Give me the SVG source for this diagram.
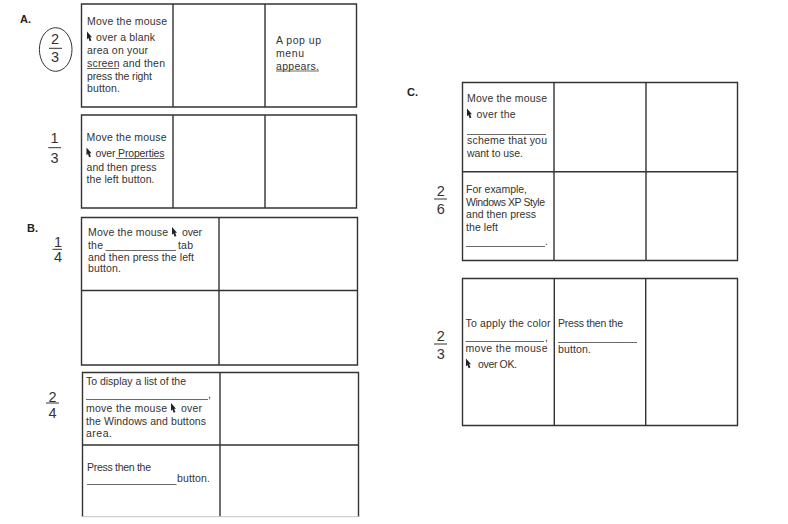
<svg xmlns="http://www.w3.org/2000/svg" width="788" height="524" viewBox="0 0 788 524">
<style>
text{font-family:"Liberation Sans",Arial,sans-serif;fill:#333}
.t{font-size:10.5px}
.h{font-size:11px;font-weight:bold;fill:#222}
.f{font-size:14.500px;text-anchor:middle;fill:#333}
.b{fill:none;stroke:#333;stroke-width:1.4}
.u{stroke:#444;stroke-width:.8;fill:none}
.r{stroke:#333;stroke-width:1;fill:none}
</style>
<defs>
<path id="cur" d="M0 0L5 5.800L3.200 5.800L4.400 9L2.600 9.700L1.500 6.400L0 7.800Z" fill="#222"/>
</defs>
<rect width="788" height="524" fill="#fff"/>
<g id="section-a">
<text class="h" x="20" y="23">A.</text>
<g id="fraction-a1"><ellipse class="r" cx="55.700" cy="49.500" rx="16.300" ry="21.800"/><text class="f" x="55" y="44">2</text><line class="r" x1="49" y1="48.300" x2="62" y2="48.300"/><text class="f" x="55" y="62">3</text></g>
<g id="table-a1">
<path class="b" d="M81.500 4H356.500V107H81.500ZM173 4V107M265 4V107"/>
<text class="t" x="87" y="25" textLength="80">Move the mouse</text>
<use href="#cur" x="87" y="31.500"/>
<text class="t" x="96" y="41" textLength="59">over a blank</text>
<text class="t" x="87" y="54" textLength="61">area on your</text>
<text class="t" x="87" y="67" textLength="78">screen and then</text>
<line class="u" x1="87" y1="68.500" x2="119" y2="68.500"/>
<text class="t" x="87" y="80" textLength="65">press the right</text>
<text class="t" x="87" y="92" textLength="33">button.</text>
<text class="t" x="276" y="44" textLength="45">A pop up</text>
<text class="t" x="276" y="57" textLength="28">menu</text>
<text class="t" x="276" y="70" textLength="43">appears.</text>
<line class="u" x1="276" y1="71" x2="319" y2="71"/>
</g>
<g id="fraction-a2"><text class="f" x="54.500" y="143.300">1</text><line class="r" x1="48.300" y1="147.700" x2="61" y2="147.700"/><text class="f" x="54.500" y="162.500">3</text></g>
<g id="table-a2">
<path class="b" d="M81.500 115H356.500V208H81.500ZM173 115V208M265 115V208"/>
<text class="t" x="86.500" y="141" textLength="80">Move the mouse</text>
<use href="#cur" x="86.500" y="147.500"/>
<text class="t" x="95.500" y="157" textLength="69">over Properties</text>
<line class="u" x1="116" y1="158.500" x2="164.500" y2="158.500"/>
<text class="t" x="86.500" y="171" textLength="70">and then press</text>
<text class="t" x="86.500" y="183" textLength="68">the left button.</text>
</g>
</g>
<g id="section-b">
<text class="h" x="27" y="232">B.</text>
<g id="fraction-b1"><text class="f" x="58" y="246.700">1</text><line class="r" x1="52.500" y1="249.300" x2="62" y2="249.300"/><text class="f" x="58" y="262.300">4</text></g>
<g id="table-b1">
<path class="b" d="M81.500 217.500H357.500V365H81.500ZM219 217.500V365M81.500 290.500H357.500"/>
<text class="t" x="88" y="236" textLength="80">Move the mouse</text>
<use href="#cur" x="172" y="227"/>
<text class="t" x="182" y="236" textLength="20">over</text>
<text class="t" x="88" y="249" textLength="15">the</text>
<line class="u" x1="105.500" y1="250.500" x2="176" y2="250.500"/>
<text class="t" x="178" y="249" textLength="15">tab</text>
<text class="t" x="88" y="261" textLength="106">and then press the left</text>
<text class="t" x="88" y="272" textLength="33">button.</text>
</g>
<g id="fraction-b2"><text class="f" x="52.500" y="401.700">2</text><line class="r" x1="46" y1="403" x2="59" y2="403"/><text class="f" x="52.500" y="417.500">4</text></g>
<g id="table-b2">
<path class="b" d="M82.500 517V372.500H358.500V517M220 372.500V517M82.500 445H358.500"/>
<line x1="82" y1="516.700" x2="359" y2="516.700" stroke="#c4c4c4" stroke-width="1"/>
<text class="t" x="86" y="385" textLength="100">To display a list of the</text>
<line class="u" x1="86" y1="399.500" x2="208" y2="399.500"/>
<text class="t" x="208" y="398">,</text>
<text class="t" x="86" y="412" textLength="81">move the mouse</text>
<use href="#cur" x="171" y="403"/>
<text class="t" x="181" y="412" textLength="21">over</text>
<text class="t" x="86" y="425" textLength="120">the Windows and buttons</text>
<text class="t" x="86" y="437" textLength="26">area.</text>
<text class="t" x="87" y="471" textLength="64">Press then the</text>
<line class="u" x1="87" y1="484.500" x2="176.500" y2="484.500"/>
<text class="t" x="177" y="482" textLength="33">button.</text>
</g>
</g>
<g id="section-c">
<text class="h" x="407" y="96">C.</text>
<g id="table-c1">
<path class="b" d="M462.500 82.500H737.500V260.500H462.500ZM554 82.500V260.500M646 82.500V260.500M462.500 171.700H737.500"/>
<text class="t" x="467" y="102" textLength="80">Move the mouse</text>
<use href="#cur" x="467" y="108.500"/>
<text class="t" x="476.500" y="118" textLength="39">over the</text>
<line class="u" x1="467" y1="134.500" x2="546" y2="134.500"/>
<text class="t" x="467" y="144" textLength="80">scheme that you</text>
<text class="t" x="467" y="157" textLength="56">want to use.</text>
<text class="t" x="466" y="193" textLength="61">For example,</text>
<text class="t" x="466" y="206" textLength="79">Windows XP Style</text>
<text class="t" x="466" y="218" textLength="70">and then press</text>
<text class="t" x="466" y="231" textLength="32">the left</text>
<line class="u" x1="466" y1="246.500" x2="545" y2="246.500"/>
<text class="t" x="545" y="245">.</text>
</g>
<g id="fraction-c1"><text class="f" x="440.700" y="195.700">2</text><line class="r" x1="434" y1="199" x2="447" y2="199"/><text class="f" x="440.700" y="213.500">6</text></g>
<g id="fraction-c2"><text class="f" x="440.700" y="341">2</text><line class="r" x1="434" y1="344" x2="447" y2="344"/><text class="f" x="440.700" y="359.300">3</text></g>
<g id="table-c2">
<path class="b" d="M462.500 278.500H737.500V425.500H462.500ZM554.300 278.500V425.500M645.700 278.500V425.500"/>
<text class="t" x="465.500" y="327" textLength="85">To apply the color</text>
<line class="u" x1="465.500" y1="341.500" x2="544" y2="341.500"/>
<text class="t" x="545" y="341">,</text>
<text class="t" x="465.500" y="352" textLength="82">move the mouse</text>
<use href="#cur" x="466" y="358.500"/>
<text class="t" x="478" y="368" textLength="39">over OK.</text>
<text class="t" x="558" y="327" textLength="65">Press then the</text>
<line class="u" x1="558" y1="342.500" x2="637" y2="342.500"/>
<text class="t" x="558" y="353" textLength="33">button.</text>
</g>
</g>
</svg>
